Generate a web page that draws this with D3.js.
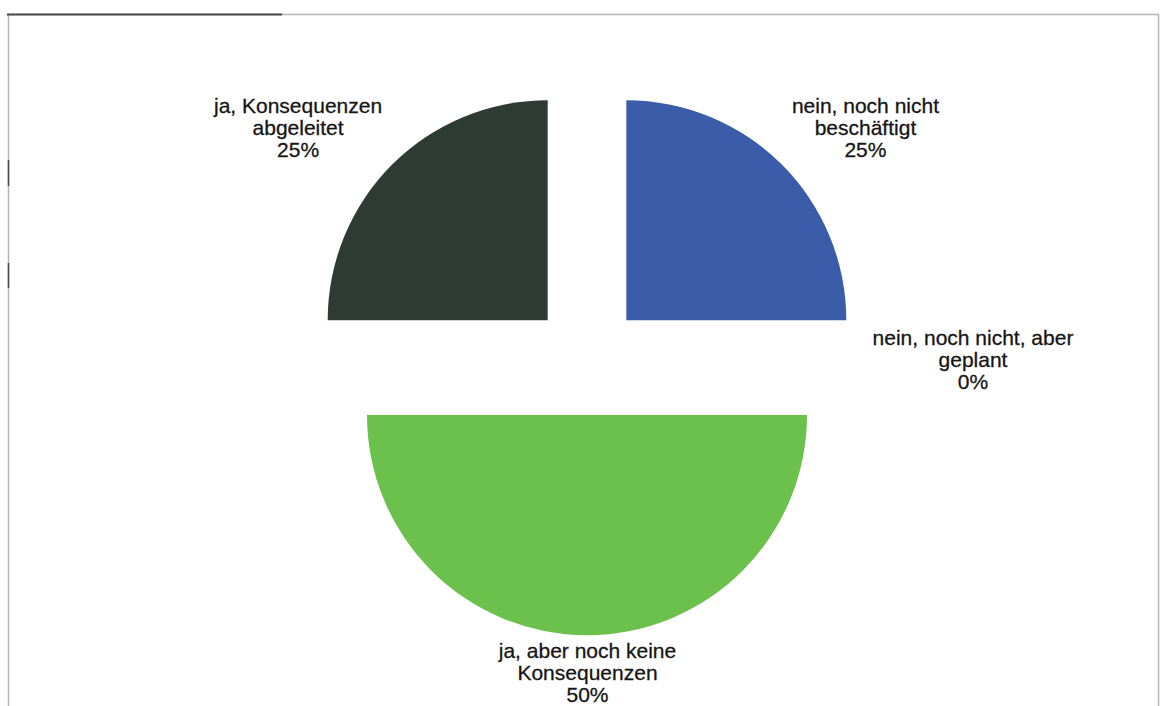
<!DOCTYPE html>
<html>
<head>
<meta charset="utf-8">
<script src="https://cdn.jsdelivr.net/npm/d3@7"></script>
<style>
  html, body { margin: 0; padding: 0; background: #ffffff; }
  svg { display: block; }
  text { font-family: "Liberation Sans", Arial, sans-serif; fill: #161616; stroke: #161616; stroke-width: 0.3px; }
</style>
</head>
<body>
<svg id="chart" width="1161" height="706"></svg>
<script>
// Answer categories, clockwise from 12 o'clock
const categories = [
  "nein, noch nicht beschäftigt",
  "nein, noch nicht, aber geplant",
  "ja, aber noch keine Konsequenzen",
  "ja, Konsequenzen abgeleitet"
];
// Wrapped label lines for each category
const labelLines = [
  ["nein, noch nicht", "beschäftigt"],
  ["nein, noch nicht, aber", "geplant"],
  ["ja, aber noch keine", "Konsequenzen"],
  ["ja, Konsequenzen", "abgeleitet"]
];
// Share of answers (percent)
const values = [25, 0, 50, 25];
const colors = ["#3b5ca8", "#a5a5a5", "#6cc04c", "#2e3a34"];

const W = 1161, H = 706;
const cx = 587, cy = 359.5, R = 220, explode = 55.6;
const padX = 10, padY = 4;
const fontSize = 21, lineHeight = 22;

const svg = d3.select("#chart");

// Frame around the chart area
const frame = svg.append("g");
frame.append("rect")
  .attr("x", 8.5).attr("y", 14.5)
  .attr("width", W - 11).attr("height", H - 12)
  .attr("fill", "none").attr("stroke", "#b4b4b4").attr("stroke-width", 1.5);
frame.append("line")
  .attr("x1", 7).attr("x2", 282).attr("y1", 14.5).attr("y2", 14.5)
  .attr("stroke", "#4a4a4a").attr("stroke-width", 1.8);
frame.append("line")
  .attr("x1", 8.5).attr("x2", 8.5).attr("y1", 160).attr("y2", 186)
  .attr("stroke", "#4a4a4a").attr("stroke-width", 1.5);
frame.append("line")
  .attr("x1", 8.5).attr("x2", 8.5).attr("y1", 263).attr("y2", 288)
  .attr("stroke", "#4a4a4a").attr("stroke-width", 1.5);

const total = d3.sum(values);
const pct = d3.format(".0%");
const pie = d3.pie().sort(null).value(d => d);
const arcs = pie(values);
const arc = d3.arc().innerRadius(0).outerRadius(R);

// Each slice is pulled out along its bisector
const slices = arcs.map((a, i) => {
  const mid = (a.startAngle + a.endAngle) / 2;
  const dx = Math.sin(mid), dy = -Math.cos(mid);
  return { a, i, mid, dx, dy,
           ox: cx + dx * explode, oy: cy + dy * explode };
});

svg.append("g").selectAll("path")
  .data(slices.filter(s => s.a.value > 0))
  .join("path")
  .attr("transform", s => `translate(${s.ox},${s.oy})`)
  .attr("d", s => arc(s.a))
  .attr("fill", s => colors[s.i]);

// Data labels: category lines plus percentage, placed just outside each slice
const labels = svg.append("g").style("font-size", fontSize + "px");
slices.forEach(s => {
  const lines = labelLines[s.i].concat([pct(values[s.i] / total)]);
  const g = labels.append("g");
  const t = g.append("text").attr("text-anchor", "middle");
  lines.forEach((ln, k) => {
    t.append("tspan").attr("x", 0).attr("y", k * lineHeight).text(ln);
  });
  const bb = t.node().getBBox();
  const ax = s.ox + s.dx * R;
  const ay = s.oy + s.dy * R;
  let tx, ty;
  if (s.dx > 0.1) tx = ax + padX - bb.x;
  else if (s.dx < -0.1) tx = ax - padX - (bb.x + bb.width);
  else tx = ax - (bb.x + bb.width / 2);
  if (s.dy < -0.1) ty = ay - padY - (bb.y + bb.height);
  else if (s.dy > 0.1) ty = ay + padY - bb.y;
  else ty = ay - (bb.y + bb.height / 2);
  g.attr("transform", `translate(${tx},${ty})`);
});
</script>
</body>
</html>
